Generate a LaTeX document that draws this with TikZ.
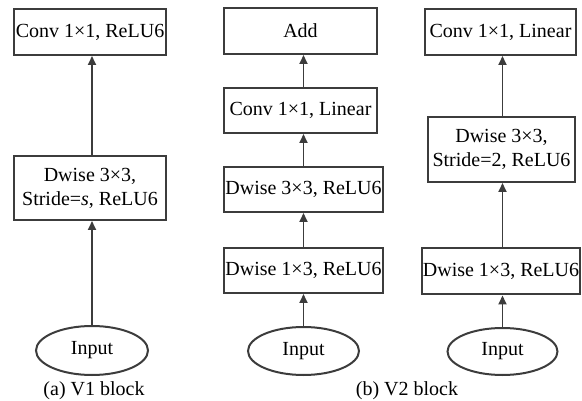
\documentclass[tikz,border=0pt]{standalone}
\usepackage{fontspec}
\setmainfont{Liberation Serif}
\usetikzlibrary{arrows.meta,shapes.geometric}
\definecolor{edge}{RGB}{60,60,60}
\tikzset{
  blk/.style={draw=edge,line width=2pt,fill=white,align=center,inner xsep=1pt,inner ysep=0pt,minimum height=46pt},
  inp/.style={draw=edge,line width=2pt,ellipse,inner sep=0pt},
  flow/.style={draw=edge,line width=1.8pt,-{Triangle[length=9pt,width=8pt]}},
  caption/.style={inner sep=0pt}
}
\begin{document}
\begin{tikzpicture}[x=1pt,y=-1pt,font=\fontsize{20}{24}\selectfont]
\useasboundingbox (0,0) rectangle (582,401);
% (a) V1 block
\node[blk,minimum width=152pt] (c1) at (90,32) {Conv 1×1, ReLU6};
\node[blk,minimum width=152pt,minimum height=64pt] (d1) at (90,188) {Dwise 3×3,\\Stride=\textit{s}, ReLU6};
\node[inp,minimum width=112pt,minimum height=49pt] (in1) at (92,350.5) {Input};
\node[caption] (cap1) at (94,391) {(a) V1 block};
\draw[flow] (in1.north) -- (in1.north |- d1.south);
\draw[flow] (in1.north |- d1.north) -- (in1.north |- c1.south);
% (b) V2 block, stride 1
\node[blk,minimum width=153pt] (add) at (300.5,31) {Add};
\node[blk,minimum width=153pt,minimum height=45pt] (lin2) at (300.5,110.5) {Conv 1×1, Linear};
\node[blk,minimum width=159pt,minimum height=45pt] (dw3) at (303.5,189.5) {Dwise 3×3, ReLU6};
\node[blk,minimum width=159pt,minimum height=45pt] (dw1) at (303.5,270.5) {Dwise 1×3, ReLU6};
\node[inp,minimum width=111pt,minimum height=48pt] (in2) at (303.5,351) {Input};
\draw[flow] (in2.north) -- (dw1.south);
\draw[flow] (dw1.north) -- (dw3.south);
\draw[flow] (dw3.north) -- (dw3.north |- lin2.south);
\draw[flow] (dw3.north |- lin2.north) -- (dw3.north |- add.south);
% (b) V2 block, stride 2
\node[blk,minimum width=151pt] (lin3) at (500.5,32) {Conv 1×1, Linear};
\node[blk,minimum width=147pt,minimum height=65pt,inner xsep=5pt] (dws) at (501.5,149.5) {Dwise 3×3,\\Stride=2, ReLU6};
\node[blk,minimum width=156pt] (dw1b) at (501,271.5) {Dwise 1×3, ReLU6};
\node[inp,minimum width=110pt,minimum height=47pt] (in3) at (502.5,351.5) {Input};
\draw[flow] (in3.north) -- (in3.north |- dw1b.south);
\draw[flow] (in3.north |- dw1b.north) -- (in3.north |- dws.south);
\draw[flow] (in3.north |- dws.north) -- (in3.north |- lin3.south);
\node[caption] (cap2) at (407,391) {(b) V2 block};
\end{tikzpicture}
\end{document}
